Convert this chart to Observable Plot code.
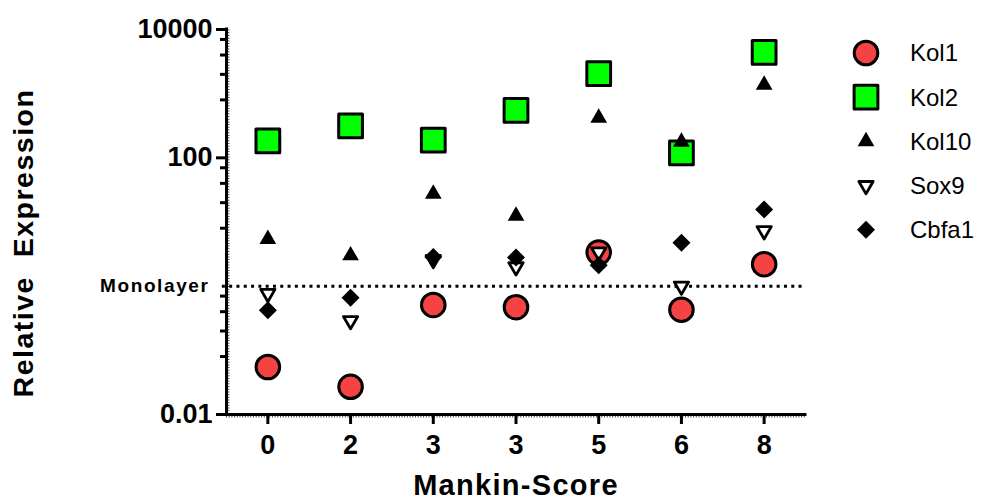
<!DOCTYPE html>
<html>
<head>
<meta charset="utf-8">
<script src="https://cdn.jsdelivr.net/npm/d3@7"></script>
<script src="https://cdn.jsdelivr.net/npm/@observablehq/plot@0.6"></script>
<style>
  html, body { margin: 0; padding: 0; background: #fff; }
  #chart { position: relative; width: 982px; height: 501px; font-family: "Liberation Sans", Arial, sans-serif; }
  #chart svg text { white-space: pre; }
  #legend { position: absolute; left: 0; top: 0; pointer-events: none; }
</style>
</head>
<body>
<div id="chart"></div>
<script>
// Mankin score of each sample (two samples share the score 3)
const scores = ["0", "2", "3", "3", "5", "6", "8"];

// Relative expression per gene, one value per sample
const kol1  = [0.055, 0.027, 0.51, 0.47, 3.35, 0.43, 2.2];
const kol2  = [183, 314, 188, 551, 2056, 119, 4416];
const kol10 = [5.4, 3.0, 27.4, 12.4, 418, 177, 1367];
const sox9  = [0.77, 0.29, 2.6, 2.0, 3.4, 1.0, 7.3];
const cbfa1 = [0.42, 0.66, 2.86, 2.8, 2.12, 4.73, 15.7];

// Reference level of the monolayer culture
const monolayer = 1;

// Log axis ticks
const yMajorTicks = [0.01, 100, 10000];
const yMinorTicks = [7000, 4000, 2000, 800, 70, 40, 20, 8, 0.7, 0.4, 0.2, 0.08];
const yDomain = [0.01, 10000];

const xTitle = "Mankin-Score";
const yTitle = "Relative  Expression";
const refLabel = "Monolayer";

// Extra tracking for the titles
const letterSpacing = {[yTitle]: 1.5, [xTitle]: 1.3, [refLabel]: 1.6};

// Downward-pointing triangle (mirror of d3.symbolTriangle)
const triangleDown = {
  draw(context, size) {
    const y = Math.sqrt(size / (3 * Math.sqrt(3)));
    context.moveTo(0, 2 * y);
    context.lineTo(-Math.sqrt(3) * y, -y);
    context.lineTo(Math.sqrt(3) * y, -y);
    context.closePath();
  }
};

const series = [
  {name: "Kol1",  values: kol1,  symbol: "circle",     r: 11.8, fill: "#f54343", stroke: "#000", strokeWidth: 3},
  {name: "Kol2",  values: kol2,  symbol: "square",     r: 13.4, fill: "#00ff00", stroke: "#000", strokeWidth: 3},
  {name: "Kol10", values: kol10, symbol: "triangle",   r: 6.2,  fill: "#000",    stroke: "none", strokeWidth: 0},
  {name: "Sox9",  values: sox9,  symbol: triangleDown, r: 5.3,  fill: "#fff",    stroke: "#000", strokeWidth: 2.8},
  {name: "Cbfa1", values: cbfa1, symbol: "diamond2",   r: 8.1,  fill: "#000",    stroke: "none", strokeWidth: 0}
];

const xIndex = d3.range(scores.length);
const font = {fontSize: 27, fontWeight: "bold"};

const dotMarks = series.map(s =>
  Plot.dot(s.values.map((v, i) => ({i, v})), {
    x: "i", y: "v",
    symbol: s.symbol, r: s.r,
    fill: s.fill, stroke: s.stroke, strokeWidth: s.strokeWidth,
    strokeLinejoin: "round"
  })
);

const plot = Plot.plot({
  width: 982,
  height: 501,
  marginLeft: 226,
  marginRight: 177,
  marginTop: 29,
  marginBottom: 87,
  style: {fontFamily: "'Liberation Sans', Arial, sans-serif", background: "#fff", color: "#000"},
  x: {type: "linear", domain: [-0.5, scores.length - 0.5], label: null},
  y: {type: "log", domain: yDomain, label: null},
  marks: [
    // reference line for the monolayer level
    Plot.ruleY([monolayer], {x1: -0.55, x2: scores.length - 0.5, stroke: "#000", strokeWidth: 3, strokeDasharray: "3,4.3"}),
    Plot.text([refLabel], {y: () => monolayer, frameAnchor: "left", dx: -17, textAnchor: "end",
      fontSize: 19, fontWeight: "bold"}),
    // axis lines with their fine ruling
    Plot.ruleX([-0.5], {y1: yDomain[0], y2: yDomain[1], stroke: "#000", strokeWidth: 3, strokeLinecap: "square"}),
    Plot.ruleX([-0.5], {y1: yDomain[0], y2: yDomain[1], stroke: "#000", strokeWidth: 1.5, dx: 2.2, strokeDasharray: "1,1.7", strokeOpacity: 0.7}),
    Plot.ruleY([yDomain[0]], {x1: -0.5, x2: scores.length - 0.5, stroke: "#000", strokeWidth: 3, strokeLinecap: "square"}),
    Plot.ruleY([yDomain[0]], {x1: -0.5, x2: scores.length - 0.5, stroke: "#000", strokeWidth: 1.5, dy: 2.2, strokeDasharray: "1,1.7", strokeOpacity: 0.7}),
    // y ticks
    Plot.axisY(yMajorTicks, {tickSize: 10, tickPadding: 4, tickFormat: d => String(d), strokeWidth: 3, label: null, ...font}),
    Plot.axisY(yMinorTicks, {tickSize: 6, tickFormat: () => "", strokeWidth: 3, label: null}),
    // x ticks
    Plot.axisX(xIndex, {tickSize: 10, tickPadding: 10, tickFormat: i => scores[i], strokeWidth: 3, label: null, ...font}),
    // axis titles
    Plot.text([yTitle], {frameAnchor: "left", textAnchor: "middle", dx: -203, dy: 21, rotate: -90,
      fontSize: 28.5, fontWeight: "bold"}),
    Plot.text([xTitle], {frameAnchor: "bottom", textAnchor: "middle", dy: 80, fontSize: 29, fontWeight: "bold"}),
    ...dotMarks
  ]
});

// Apply tracking to the titles
d3.select(plot).selectAll("text").each(function() {
  const t = this.textContent;
  if (t in letterSpacing) this.style.letterSpacing = letterSpacing[t] + "px";
});

const chart = document.getElementById("chart");
chart.appendChild(plot);

// Legend to the right of the plot area
const legend = d3.select(chart).append("svg")
  .attr("id", "legend")
  .attr("width", 982).attr("height", 501);

const rows = legend.selectAll("g").data(series).join("g")
  .attr("transform", (d, i) => `translate(866,${53 + i * 44.2})`);

rows.append("path")
  .attr("d", d => {
    const type = {circle: d3.symbolCircle, square: d3.symbolSquare, triangle: d3.symbolTriangle, diamond2: d3.symbolDiamond2}[d.symbol] || d.symbol;
    return d3.symbol(type, Math.PI * d.r * d.r)();
  })
  .attr("fill", d => d.fill)
  .attr("stroke", d => d.stroke)
  .attr("stroke-width", d => d.strokeWidth)
  .attr("stroke-linejoin", "round");

rows.append("text")
  .attr("x", 44)
  .attr("dy", "0.35em")
  .attr("font-size", 24)
  .attr("font-family", "'Liberation Sans', Arial, sans-serif")
  .text(d => d.name);
</script>
</body>
</html>
